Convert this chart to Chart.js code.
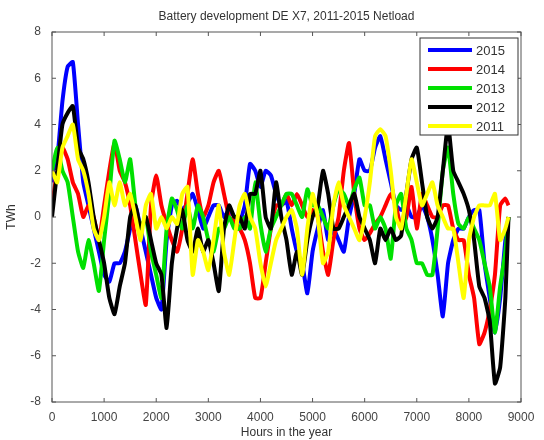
<!DOCTYPE html>
<html><head><meta charset="utf-8">
<script src="https://cdn.jsdelivr.net/npm/chart.js@4"></script>
<style>html,body{margin:0;padding:0;background:#fff}#w{width:544px;height:440px}</style>
</head><body><div id="w"><canvas id="c"></canvas></div>
<script>
const hours = [0,100,200,300,400,500,600,700,800,900,1000,1100,1200,1300,1400,1500,1600,1700,1800,1900,2000,2100,2200,2300,2400,2500,2600,2700,2800,2900,3000,3100,3200,3300,3400,3500,3600,3700,3800,3900,4000,4100,4200,4300,4400,4500,4600,4700,4800,4900,5000,5100,5200,5300,5400,5500,5600,5700,5800,5900,6000,6100,6200,6300,6400,6500,6600,6700,6800,6900,7000,7100,7200,7300,7400,7500,7600,7700,7800,7900,8000,8100,8200,8300,8400,8500,8600,8700,8760];
const y2015 = [1.5,2.5,5,6.5,6.7,4,1.5,0.5,-0.5,-1.5,-2.5,-2.8,-2,-2,-1.5,-0.5,0.5,-0.5,-1.5,-2.5,-3.5,-4,-1,0.5,0.7,0.3,0.6,1,0.3,-0.5,0,0.5,0.5,0,0.3,0,-0.2,0.5,2.3,2,1.3,2,1.8,1,0.5,0.7,-0.5,-1.5,-2,-3.3,-1.5,-0.5,0.3,-1,-0.5,-1,-1.5,0,1,2.5,2,2,3,3.5,2.5,1.5,0.5,0.3,0.5,0,0,0.5,0,-1,-2.5,-4.3,-2,-1,-0.5,-0.5,0,0.3,0.3,-2,-3.5,-5,-3.5,-1,0];
const y2014 = [0.5,2,3,2.5,1.5,1,0,0.5,0,-1,0.5,2,3.2,2,1.5,0.5,-1,-2.5,-3.8,0.5,1.8,0.5,-0.3,-1,-1.5,-0.5,1,2.5,1,0,0.5,1.5,2,1,0,-0.2,-0.5,-1,-2,-3.5,-3.5,-2,-0.5,0.5,0.5,1,0.5,1,0.5,0,0.3,0,-1.5,-2.5,-1,0,2,3.2,1,-0.5,-1,-0.7,-0.3,0,0.5,1,0.5,-0.5,0,1.3,-0.5,1,0.5,0,0,0.5,0.5,-0.5,-1,-1,-2.5,-3.5,-5.5,-5,-4,-2.5,0.5,0.8,0.5];
const y2013 = [2,3,2,1.5,0,-1.5,-2.2,-1,-2,-3.2,-1,1,3.3,2.5,1.5,2.5,0.5,-0.5,0,-1.5,-2.5,-3.5,-0.5,0.8,0.3,-0.5,0.5,-0.5,0.5,0,-1,-1.5,-0.5,-0.5,0,-0.5,-0.5,0,-0.5,1.5,-0.3,-1.5,-0.5,0,0.5,1,1,0.5,0,1.2,0.5,0.5,0,-0.5,0.5,1.2,1,0.5,1.2,1.7,0.5,0.5,-0.5,0,-0.5,-1.8,0.5,1,-0.5,-1,-2,-2,-2.5,-2.5,-0.5,2,3,1,-0.3,-0.5,0,-0.5,-1,-2,-3,-5,-3,-1.5,0];
const y2012 = [0,2,4,4.5,4.8,3,2.5,1.5,0,-1,-2,-3.5,-4.2,-3,-2,0,0.5,-0.5,0,-1,-2,-2.5,-4.8,-2,-0.5,0.3,-1,-1.5,-0.5,-1.5,-1,-2,-3.2,-0.5,0.5,0,0,-0.5,1,1,2,0,-0.5,1.5,0,-1,-2.5,-1.5,-2.5,-1,0,0.5,2,1,-0.5,-0.5,0,0.5,1,0,-0.5,-1,-2,-0.5,-1,-0.5,-1,-0.8,1,2.5,3,1.5,0,-0.5,0,2,4,2,1.5,1,0.3,-1,-3,-3.5,-4.5,-7.2,-6.5,-3.5,0];
const y2011 = [2,1.5,3,3.5,4,2.5,2,1,-0.5,-1,0,1.5,0.5,1.5,0.5,1,0,-1,0.5,1,-0.5,0,-0.5,0,-0.3,1,1.3,-2.5,-1,-1.5,-2.3,-1,0.5,-1.5,-2.5,-1,0.5,1,0,-0.5,-2,-3,-2,-1,-0.5,0,0.3,-0.5,-2.5,-0.5,1,0,-2,-1.5,0.5,1.5,0.5,0,-0.5,-1,0,1.5,3.5,3.8,3.5,2,0,-0.5,1,2.5,1.5,0.5,1,1.5,0.5,0,-0.5,-0.5,-2,-3.5,-1,0,0.5,0.5,0.5,1,-1,-0.5,0];
const seriesNames = ['2015','2014','2013','2012','2011'];
const seriesColors = ['#0000ff','#ff0000','#00e000','#000000','#ffff00'];
const seriesData = [y2015,y2014,y2013,y2012,y2011];

const datasets = seriesData.map((d,i)=>({label:seriesNames[i],data:hours.map((h,j)=>({x:h,y:d[j]})),borderColor:seriesColors[i],borderWidth:4,pointRadius:0,tension:0.15,fill:false})).reverse();

const deco = {id:'deco',afterDraw(ch){
  const {ctx,chartArea:a}=ch;
  ctx.save();
  ctx.strokeStyle='#555';ctx.lineWidth=1;ctx.strokeRect(a.left,a.top,a.right-a.left,a.bottom-a.top);
  const xs=ch.scales.x, ys=ch.scales.y;
  ctx.beginPath();
  for(let v=0;v<=9000;v+=1000){const p=xs.getPixelForValue(v);ctx.moveTo(p,a.bottom);ctx.lineTo(p,a.bottom-4);ctx.moveTo(p,a.top);ctx.lineTo(p,a.top+4);}
  for(let v=-8;v<=8;v+=2){const p=ys.getPixelForValue(v);ctx.moveTo(a.left,p);ctx.lineTo(a.left+4,p);ctx.moveTo(a.right,p);ctx.lineTo(a.right-4,p);}
  ctx.stroke();
  ctx.fillStyle='#333';ctx.font='12px "Liberation Sans", Arial';ctx.textAlign='center';ctx.textBaseline='middle';
  ctx.fillText('Battery development DE X7, 2011-2015 Netload',(a.left+a.right)/2,17);
  const lx=420,ly=38,lw=98,lh=97;
  ctx.fillStyle='#fff';ctx.fillRect(lx,ly,lw,lh);ctx.strokeStyle='#333';ctx.strokeRect(lx,ly,lw,lh);
  ctx.textAlign='left';ctx.font='13px "Liberation Sans", Arial';
  seriesNames.forEach((n,i)=>{const y=ly+12+i*19;ctx.strokeStyle=seriesColors[i];ctx.lineWidth=4;ctx.beginPath();ctx.moveTo(lx+8,y);ctx.lineTo(lx+52,y);ctx.stroke();ctx.fillStyle='#333';ctx.fillText(n,lx+56,y+1);});
  ctx.restore();
}};

new Chart(document.getElementById('c'),{type:'line',data:{datasets},
 options:{responsive:true,maintainAspectRatio:false,animation:false,
  layout:{padding:{top:32,right:23,left:0,bottom:0}},
  plugins:{legend:{display:false},tooltip:{enabled:false}},
  scales:{
   x:{type:'linear',min:0,max:9000,grid:{display:false},border:{display:false},
      ticks:{stepSize:1000,color:'#444',font:{size:12,family:'Liberation Sans'},maxRotation:0,autoSkip:false,padding:0,callback:v=>String(v)},
      title:{display:true,text:'Hours in the year',color:'#333',font:{size:12,family:'Liberation Sans'},padding:{top:2,bottom:0}},
      afterFit(s){s.height=38;}},
   y:{min:-8,max:8,grid:{display:false},border:{display:false},
      ticks:{stepSize:2,color:'#444',font:{size:12,family:'Liberation Sans'}},
      title:{display:true,text:'TWh',color:'#333',font:{size:12,family:'Liberation Sans'}},
      afterFit(s){s.width=52;}}
  }}, plugins:[deco]});
</script></body></html>
